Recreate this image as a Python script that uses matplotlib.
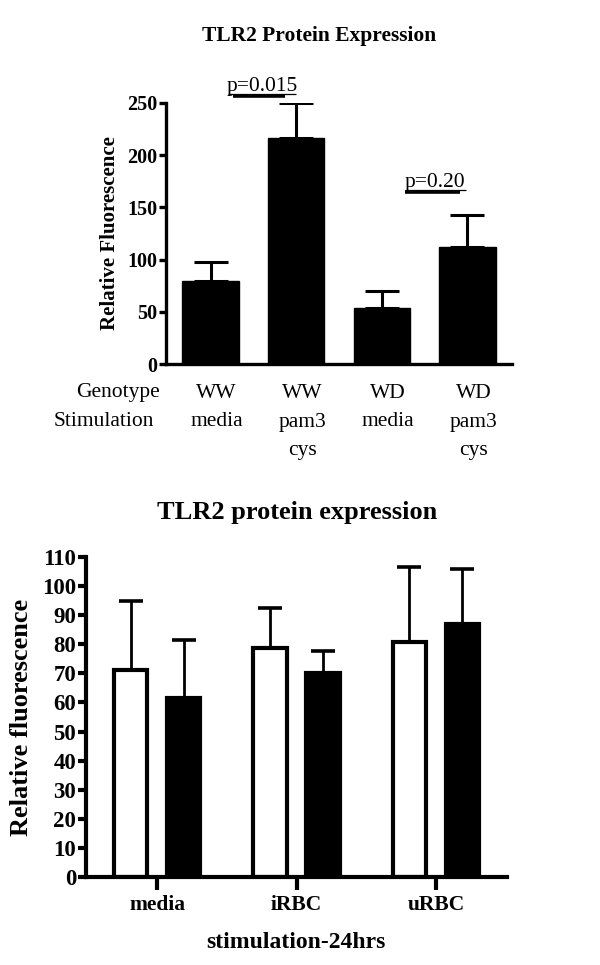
import numpy as np
import matplotlib.pyplot as plt
from matplotlib import transforms

plt.rcParams['font.family'] = ['Liberation Serif', 'DejaVu Serif']

# ---------- data: top panel ----------
top_genotype = ["WW", "WW", "WD", "WD"]
top_stim = ["media", "pam3\ncys", "media", "pam3\ncys"]
top_mean = [79.5, 216, 54, 112]
top_err = [18.5, 34, 16, 31]
top_row_names = ["Genotype", "Stimulation"]
p_labels = ["p=0.015", "p=0.20"]
p_level = [257, 165]

# ---------- data: bottom panel ----------
bot_groups = ["media", "iRBC", "uRBC"]
bot_white = [71.2, 78.8, 80.9]
bot_white_err = [23.6, 13.6, 25.7]
bot_black = [61.5, 70.2, 86.9]
bot_black_err = [19.9, 7.6, 19.0]

W, H = 600, 965
fig = plt.figure(figsize=(6, 9.65), dpi=100)

def ax_rect(x0, y0, x1, y1):
    # pixel box -> figure fraction
    return [x0 / W, 1 - y1 / H, (x1 - x0) / W, (y1 - y0) / H]

# ---------- top panel ----------
ax1 = fig.add_axes(ax_rect(166, 103, 512, 364))
x = np.arange(len(top_mean))
ax1.bar(x, top_mean, width=0.66, color='black', edgecolor='black', zorder=2)
ax1.errorbar(x, top_mean, yerr=[np.zeros(len(top_err)), top_err], fmt='none',
             ecolor='black', elinewidth=2.2, capsize=12.5, capthick=2.2, zorder=1)
ax1.set_xlim(-0.52, 3.52)
ax1.set_ylim(0, 250)
ax1.set_yticks([0, 50, 100, 150, 200, 250])
ax1.set_xticks([])
for s in ['top', 'right']:
    ax1.spines[s].set_visible(False)
for s in ['left', 'bottom']:
    ax1.spines[s].set_linewidth(2.4)
ax1.tick_params(axis='y', direction='out', length=5, width=2.4, pad=1,
                labelsize=14.5)
for lab in ax1.get_yticklabels():
    lab.set_fontweight('bold')

fig.text(319 / W, 1 - 36 / H, "TLR2 Protein Expression", ha='center', va='center',
         fontsize=15.5, fontweight='bold')
fig.text(110 / W, 1 - 233 / H, "Relative Fluorescence", ha='center', va='center',
         rotation=90, fontsize=15, fontweight='bold')

# category rows under the axis
trans = transforms.blended_transform_factory(ax1.transData, ax1.transAxes)
row_y = [-(393 - 364) / 261, -(422 - 364) / 261, -(450 - 364) / 261]
for i in range(len(top_mean)):
    ax1.text(x[i] + 0.07, row_y[0], top_genotype[i], transform=trans,
             ha='center', va='center', fontsize=15.5, clip_on=False)
    for j, line in enumerate(top_stim[i].split("\n")):
        ax1.text(x[i] + 0.07, row_y[1 + j], line, transform=trans,
                 ha='center', va='center', fontsize=15.5, clip_on=False)
ax1.text(160 / W, 1 - 393 / H, top_row_names[0], transform=fig.transFigure,
         ha='right', va='center', fontsize=15.5)
ax1.text(154 / W, 1 - 422 / H, top_row_names[1], transform=fig.transFigure,
         ha='right', va='center', fontsize=15.5)

# p-value annotations
p_text_x = [0.6, 2.62]
p_bar = [(0.26, 0.87), (2.27, 2.91)]
p_thin = [(0.2, 1.0), (2.27, 2.98)]
for k in range(len(p_labels)):
    ax1.text(p_text_x[k], p_level[k] + 4.5, p_labels[k], ha='center',
             va='baseline', fontsize=15.5, clip_on=False)
    ax1.plot(p_thin[k], [p_level[k] + 1.2] * 2, color='black', lw=0.9,
             clip_on=False, solid_capstyle='butt')
    ax1.plot(p_bar[k], [p_level[k]] * 2, color='black', lw=2.6,
             clip_on=False, solid_capstyle='butt')

# ---------- bottom panel ----------
ax2 = fig.add_axes(ax_rect(86, 557, 507, 877))
g = np.arange(len(bot_groups))
off = 0.19
bw = 0.24
ax2.bar(g - off, bot_white, width=bw, color='white', edgecolor='black',
        linewidth=3, zorder=2)
ax2.bar(g + off, bot_black, width=bw, color='black', edgecolor='black',
        linewidth=3, zorder=2)
ax2.errorbar(g - off, bot_white, yerr=[np.zeros(3), bot_white_err], fmt='none',
             ecolor='black', elinewidth=2, capsize=8.4, capthick=2.6, zorder=1)
ax2.errorbar(g + off, bot_black, yerr=[np.zeros(3), bot_black_err], fmt='none',
             ecolor='black', elinewidth=2, capsize=8.4, capthick=2.6, zorder=1)
ax2.set_xlim(-0.51, 2.51)
ax2.set_ylim(0, 110)
ax2.set_yticks(np.arange(0, 111, 10))
ax2.set_xticks(g)
ax2.set_xticklabels(bot_groups, fontsize=15.5, fontweight='bold')
for s in ['top', 'right']:
    ax2.spines[s].set_visible(False)
for s in ['left', 'bottom']:
    ax2.spines[s].set_linewidth(3)
ax2.tick_params(axis='y', direction='out', length=6, width=3, pad=1, labelsize=16.5)
ax2.tick_params(axis='x', direction='out', length=9, width=3, pad=4)
for lab in ax2.get_yticklabels():
    lab.set_fontweight('bold')

fig.text(297 / W, 1 - 512 / H, "TLR2 protein expression", ha='center', va='center',
         fontsize=19, fontweight='bold')
fig.text(22 / W, 1 - 717 / H, "Relative fluorescence", ha='center', va='center',
         rotation=90, fontsize=19, fontweight='bold')
fig.text(296 / W, 1 - 942 / H, "stimulation-24hrs", ha='center', va='center',
         fontsize=17, fontweight='bold')

fig.savefig("out.png", dpi=100)
